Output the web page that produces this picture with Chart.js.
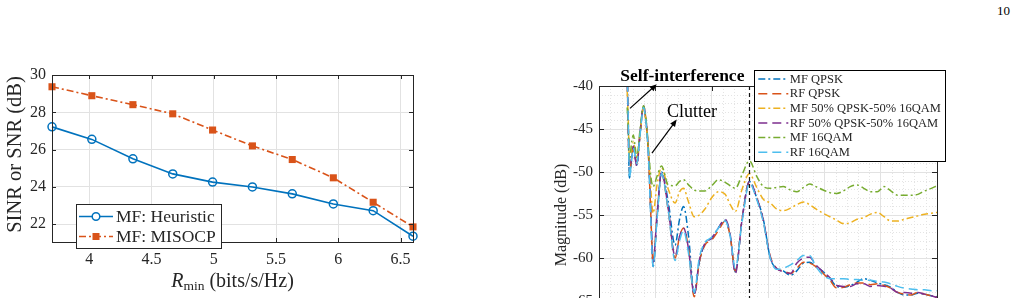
<!DOCTYPE html>
<html>
<head>
<meta charset="utf-8">
<script src="https://cdn.jsdelivr.net/npm/chart.js@4.4.0/dist/chart.umd.min.js"></script>
<style>
  html, body { margin: 0; padding: 0; background: #fff; overflow: hidden; width: 1018px; height: 298px; }
  #page-num { position: absolute; left: 997px; top: 3px; font: 13px 'Liberation Serif', serif; color: #000; }
  #left-chart { position: absolute; left: 0; top: 50px; }
  #right-chart { position: absolute; left: 540px; top: 40px; }
</style>
</head>
<body>
<div id="page-num">10</div>
<canvas id="left-chart" width="440" height="248"></canvas>
<canvas id="right-chart" width="478" height="400"></canvas>
<script>
// ---- left panel: SINR vs R_min ----
const rateMin = [3.7, 4.02, 4.35, 4.67, 4.99, 5.31, 5.63, 5.96, 6.28, 6.6];
const sinrHeuristic = [27.22, 26.55, 25.51, 24.70, 24.26, 24.0, 23.63, 23.09, 22.73, 21.36];
const sinrMisocp = [29.37, 28.89, 28.41, 27.92, 27.05, 26.2, 25.47, 24.49, 23.18, 21.86];
const leftXTicks = [4, 4.5, 5, 5.5, 6, 6.5];
const leftYTicks = [22, 24, 26, 28, 30];
const leftLabels = ['MF: Heuristic', 'MF: MISOCP'];

// ---- right panel: range profile ----
const rangeBins = [5.0, 5.2, 5.4, 5.8, 6.1, 6.4, 6.7, 7.3, 7.9, 8.4,
  8.8, 9.2, 9.6, 10.3, 11.1, 12.3, 13.5, 14.3, 15.0, 15.9,
  16.9, 17.8, 18.8, 20.0, 21.2, 22.4, 23.3, 24.2, 25.4, 26.7,
  28.0, 29.2, 30.4, 31.5, 32.7, 34.0, 35.1, 36.3, 37.4, 38.5,
  39.8, 41.0, 42.2, 43.4, 44.6, 45.8, 47.0, 48.2, 49.4, 50.6,
  51.8, 53.0, 54.2, 55.4, 56.6, 57.8, 59.0, 60.0];
const mfQpsk = [-38, -45, -50.7, -48.5, -47.0, -48.0, -49.2, -45.5, -42.4, -44.5,
  -48.2, -55.0, -61.0, -55.5, -50.0, -53.5, -58.5, -55.5, -54.0, -57.5,
  -64.1, -60.5, -58.3, -57.7, -56.5, -55.6, -57.5, -61.6, -55.5, -51.1,
  -53.0, -55.6, -60.0, -61.2, -61.5, -62.0, -61.5, -60.6, -60.5, -61.0,
  -61.6, -62.4, -63.3, -63.4, -63.2, -62.8, -62.4, -62.6, -62.9, -63.1,
  -63.4, -64.0, -64.3, -64.3, -64.1, -64.2, -64.4, -64.5];
const rfQpsk = [-38, -45, -50.3, -48.2, -47.3, -48.3, -49.0, -45.5, -42.4, -44.5,
  -48.3, -55.0, -60.5, -55.0, -50.2, -54.5, -60.0, -57.5, -56.5, -59.0,
  -64.5, -60.5, -58.5, -57.9, -56.8, -55.7, -57.5, -61.5, -55.5, -51.2,
  -53.0, -55.8, -59.8, -61.2, -61.5, -61.8, -61.2, -60.5, -60.6, -61.0,
  -61.8, -62.6, -63.5, -63.4, -63.1, -62.9, -62.9, -63.1, -63.0, -63.2,
  -63.5, -64.0, -64.2, -64.3, -64.0, -64.2, -64.4, -64.6];
const mfMixed = [-40.5, -44, -48.5, -47.5, -46.5, -47.5, -48.5, -45.5, -42.5, -44.5,
  -48.0, -52.0, -54.8, -51.5, -49.5, -52.0, -53.6, -52.3, -51.9, -53.5,
  -55.2, -55.0, -54.3, -53.0, -52.3, -52.6, -53.8, -54.6, -52.0, -50.2,
  -51.8, -53.2, -53.6, -54.3, -54.5, -54.2, -53.8, -53.5, -53.8, -54.3,
  -54.8, -55.2, -55.6, -56.0, -55.9, -55.5, -55.3, -54.9, -54.7, -55.2,
  -55.7, -55.7, -55.5, -55.3, -55.1, -54.9, -54.8, -54.7];
const rfMixed = [-38, -45, -50.0, -48.3, -47.0, -48.3, -49.3, -45.4, -42.3, -44.3,
  -48.0, -54.5, -60.5, -55.0, -50.0, -54.3, -59.8, -57.5, -56.5, -59.0,
  -64.3, -60.3, -58.3, -57.7, -56.5, -55.5, -57.3, -61.8, -55.5, -51.1,
  -53.0, -55.7, -59.9, -61.2, -61.6, -61.8, -60.6, -60.0, -59.9, -60.8,
  -61.6, -62.3, -63.2, -63.3, -63.3, -63.0, -63.0, -63.3, -63.2, -63.3,
  -63.5, -64.0, -64.0, -64.1, -64.0, -64.2, -64.4, -64.6];
const mf16qam = [-42.5, -45, -48.6, -46.5, -45.7, -47.0, -48.3, -45.0, -42.3, -44.2,
  -47.5, -50.5, -51.7, -50.5, -49.3, -51.5, -51.6, -51.1, -50.9, -51.5,
  -52.1, -52.2, -52.2, -51.6, -50.9, -51.2, -51.6, -51.9, -50.3, -48.7,
  -50.5, -51.7, -51.9, -51.8, -51.7, -52.1, -52.3, -51.8, -51.4, -51.7,
  -52.1, -52.4, -52.5, -52.2, -51.7, -51.5, -51.9, -52.3, -52.3, -51.7,
  -52.2, -52.7, -52.7, -52.7, -52.6, -52.2, -51.9, -51.6];
const rf16qam = [-38, -44, -50.7, -48.5, -47.2, -48.0, -49.0, -45.6, -42.5, -44.6,
  -48.5, -55.5, -61.0, -55.5, -50.2, -54.5, -60.3, -58.0, -56.8, -59.5,
  -64.0, -60.0, -58.2, -57.6, -56.5, -55.7, -57.5, -61.2, -55.8, -51.3,
  -53.2, -55.9, -60.0, -61.3, -61.2, -60.8, -60.3, -59.7, -59.7, -61.0,
  -62.0, -62.4, -62.4, -62.4, -62.5, -62.5, -62.6, -62.6, -62.7, -62.8,
  -63.0, -63.3, -63.5, -63.6, -63.7, -63.7, -63.8, -63.8];
const rightLabels = ['MF QPSK', 'RF QPSK', 'MF 50% QPSK-50% 16QAM', 'RF 50% QPSK-50% 16QAM', 'MF 16QAM', 'RF 16QAM'];
const targetBin = 26.7;
// annotation anchors, in data units (range bin, dB)
const selfIntArrow = [[5.5, -42.6], [10.25, -39.8]];
const clutterArrow = [[9.4, -47.8], [13.8, -43.9]];
const selfIntText = [14.8, -38.9];
const clutterText = [16.5, -43.0];

const AXIS = '#262626';
const GRID = '#e2e2e2';
const SERIF = "'Liberation Serif', 'Times New Roman', serif";
const C = { blue: '#0072BD', orange: '#D95319', yellow: '#EDB120', purple: '#7E2F8E', green: '#77AC30', cyan: '#4DBEEE' };
const DASHDOT = [7, 3, 2, 3];
const DASHED = [9, 5];

function inwardTicks(ctx, chart, len) {
  const { left, right, top, bottom } = chart.chartArea;
  const xs = chart.scales.x, ys = chart.scales.y;
  ctx.beginPath();
  xs.ticks.forEach((t) => {
    const px = Math.round(xs.getPixelForValue(t.value)) + 0.5;
    ctx.moveTo(px, bottom); ctx.lineTo(px, bottom - len);
    ctx.moveTo(px, top); ctx.lineTo(px, top + len);
  });
  ys.ticks.forEach((t) => {
    const py = Math.round(ys.getPixelForValue(t.value)) + 0.5;
    ctx.moveTo(left, py); ctx.lineTo(left + len, py);
    ctx.moveTo(right, py); ctx.lineTo(right - len, py);
  });
  ctx.stroke();
}

function frame(ctx, chart) {
  const { left, right, top, bottom } = chart.chartArea;
  ctx.strokeStyle = AXIS;
  ctx.lineWidth = 1;
  ctx.setLineDash([]);
  ctx.strokeRect(Math.round(left) + 0.5, Math.round(top) + 0.5, Math.round(right - left), Math.round(bottom - top));
}

// ---- left chart ----
const leftDecor = {
  id: 'leftDecor',
  afterDraw(chart) {
    const ctx = chart.ctx;
    const { left, right, top, bottom } = chart.chartArea;
    ctx.save();
    frame(ctx, chart);
    inwardTicks(ctx, chart, 4);

    // axis titles
    ctx.fillStyle = AXIS;
    ctx.textBaseline = 'middle';
    ctx.save();
    ctx.translate(16, (top + bottom) / 2 - 4);
    ctx.rotate(-Math.PI / 2);
    ctx.textAlign = 'center';
    ctx.font = `20.5px ${SERIF}`;
    ctx.fillText('SINR or SNR (dB)', 0, 0);
    ctx.restore();

    const r = 'R', sub = 'min', rest = ' (bits/s/Hz)';
    ctx.font = `italic 20px ${SERIF}`;
    const wR = ctx.measureText(r).width;
    ctx.font = `13.5px ${SERIF}`;
    const wSub = ctx.measureText(sub).width;
    ctx.font = `20px ${SERIF}`;
    const wRest = ctx.measureText(rest).width;
    let x = (left + right) / 2 - (wR + wSub + wRest) / 2;
    const y = bottom + 40;
    ctx.textAlign = 'left';
    ctx.font = `italic 20px ${SERIF}`;
    ctx.fillText(r, x, y); x += wR;
    ctx.font = `13.5px ${SERIF}`;
    ctx.fillText(sub, x, y + 4.5); x += wSub;
    ctx.font = `20px ${SERIF}`;
    ctx.fillText(rest, x, y);

    // legend
    const lx = 76, ly = 154, lw = 145, lh = 44;
    ctx.fillStyle = '#fff';
    ctx.fillRect(lx, ly, lw, lh);
    ctx.strokeStyle = AXIS;
    ctx.lineWidth = 1;
    ctx.strokeRect(lx + 0.5, ly + 0.5, lw, lh);
    chart.data.datasets.forEach((ds, i) => {
      const cy = ly + 12.5 + i * 20;
      ctx.strokeStyle = ds.borderColor;
      ctx.lineWidth = 1.5;
      ctx.setLineDash(ds.borderDash || []);
      ctx.beginPath(); ctx.moveTo(lx + 3, cy); ctx.lineTo(lx + 37, cy); ctx.stroke();
      ctx.setLineDash([]);
      if (i === 0) {
        ctx.beginPath(); ctx.arc(lx + 20, cy, 3.8, 0, Math.PI * 2); ctx.fillStyle = '#fff'; ctx.fill(); ctx.stroke();
      } else {
        ctx.fillStyle = ds.borderColor; ctx.fillRect(lx + 16.5, cy - 3.5, 7, 7);
      }
      ctx.fillStyle = AXIS;
      ctx.font = `17.5px ${SERIF}`;
      ctx.textAlign = 'left';
      ctx.fillText(leftLabels[i], lx + 40, cy + 1);
    });
    ctx.restore();
  },
};

new Chart(document.getElementById('left-chart'), {
  type: 'line',
  data: {
    datasets: [
      {
        data: rateMin.map((x, i) => ({ x, y: sinrHeuristic[i] })),
        borderColor: C.blue, borderWidth: 1.6,
        pointStyle: 'circle', pointRadius: 4, pointBorderWidth: 1.5,
        pointBackgroundColor: 'rgba(255,255,255,0)', pointBorderColor: C.blue,
      },
      {
        data: rateMin.map((x, i) => ({ x, y: sinrMisocp[i] })),
        borderColor: C.orange, borderWidth: 1.6, borderDash: DASHDOT,
        pointStyle: 'rect', pointRadius: 5, pointBorderWidth: 0,
        pointBackgroundColor: C.orange, pointBorderColor: C.orange,
      },
    ],
  },
  options: {
    responsive: false,
    animation: false,
    clip: false,
    layout: { padding: { top: 25, right: 27, left: 0, bottom: 0 } },
    plugins: { legend: { display: false }, tooltip: { enabled: false } },
    scales: {
      x: {
        type: 'linear', min: 3.7, max: 6.6,
        afterBuildTicks: (s) => { s.ticks = leftXTicks.map((v) => ({ value: v })); },
        afterFit: (s) => { s.height = 56; },
        grid: { color: GRID, drawTicks: false },
        border: { color: AXIS },
        ticks: {
          color: AXIS, font: { family: SERIF, size: 16 }, padding: 8, maxRotation: 0, autoSkip: false,
          callback: (v) => String(v),
        },
      },
      y: {
        min: 21.05, max: 30,
        afterBuildTicks: (s) => { s.ticks = leftYTicks.map((v) => ({ value: v })); },
        afterFit: (s) => { s.width = 52; },
        grid: { color: GRID, drawTicks: false },
        border: { color: AXIS },
        ticks: { color: AXIS, font: { family: SERIF, size: 16 }, padding: 6, callback: (v) => String(v) },
      },
    },
  },
  plugins: [leftDecor],
});

// ---- right chart ----
const rightSeries = [
  { label: rightLabels[0], values: mfQpsk, color: C.blue, dash: DASHDOT },
  { label: rightLabels[1], values: rfQpsk, color: C.orange, dash: DASHED },
  { label: rightLabels[2], values: mfMixed, color: C.yellow, dash: DASHDOT },
  { label: rightLabels[3], values: rfMixed, color: C.purple, dash: DASHED },
  { label: rightLabels[4], values: mf16qam, color: C.green, dash: DASHDOT },
  { label: rightLabels[5], values: rf16qam, color: C.cyan, dash: DASHED },
];

function arrow(ctx, x0, y0, x1, y1) {
  const ang = Math.atan2(y1 - y0, x1 - x0);
  const h = 7, w = 3;
  ctx.beginPath(); ctx.moveTo(x0, y0); ctx.lineTo(x1 - Math.cos(ang) * h * 0.8, y1 - Math.sin(ang) * h * 0.8); ctx.stroke();
  ctx.beginPath();
  ctx.moveTo(x1, y1);
  ctx.lineTo(x1 - h * Math.cos(ang) + w * Math.sin(ang), y1 - h * Math.sin(ang) - w * Math.cos(ang));
  ctx.lineTo(x1 - h * Math.cos(ang) - w * Math.sin(ang), y1 - h * Math.sin(ang) + w * Math.cos(ang));
  ctx.closePath(); ctx.fill();
}

const rightDecor = {
  id: 'rightDecor',
  beforeDatasetsDraw(chart) {
    // minor dotted grid
    const ctx = chart.ctx;
    const { left, right, top, bottom } = chart.chartArea;
    const xs = chart.scales.x, ys = chart.scales.y;
    ctx.save();
    ctx.strokeStyle = '#e4e4e4';
    ctx.lineWidth = 1;
    ctx.setLineDash([1, 2]);
    ctx.beginPath();
    for (let v = xs.min + 2; v < xs.max; v += 2) {
      if (v % 10 === 0) continue;
      const px = Math.round(xs.getPixelForValue(v)) + 0.5;
      ctx.moveTo(px, top); ctx.lineTo(px, bottom);
    }
    for (let d = ys.min + 1; d < ys.max; d += 1) {
      if (d % 5 === 0) continue;
      const py = Math.round(ys.getPixelForValue(d)) + 0.5;
      ctx.moveTo(left, py); ctx.lineTo(right, py);
    }
    ctx.stroke();
    ctx.restore();
  },
  afterDraw(chart) {
    const ctx = chart.ctx;
    const { top, bottom } = chart.chartArea;
    const xs = chart.scales.x, ys = chart.scales.y;
    const P = (p) => [xs.getPixelForValue(p[0]), ys.getPixelForValue(p[1])];
    ctx.save();

    // target marker
    const tx = Math.round(xs.getPixelForValue(targetBin)) + 0.5;
    ctx.strokeStyle = '#111';
    ctx.lineWidth = 1.2;
    ctx.setLineDash([4, 3]);
    ctx.beginPath(); ctx.moveTo(tx, top); ctx.lineTo(tx, bottom); ctx.stroke();

    frame(ctx, chart);
    inwardTicks(ctx, chart, 5);

    // annotations
    ctx.fillStyle = '#000';
    ctx.strokeStyle = '#000';
    ctx.lineWidth = 1.2;
    const [a0, a1] = selfIntArrow.map(P);
    arrow(ctx, a0[0], a0[1], a1[0], a1[1]);
    const [c0, c1] = clutterArrow.map(P);
    arrow(ctx, c0[0], c0[1], c1[0], c1[1]);
    ctx.textAlign = 'center';
    ctx.textBaseline = 'middle';
    ctx.font = `bold 17.5px ${SERIF}`;
    const st = P(selfIntText);
    ctx.fillText('Self-interference', st[0], st[1]);
    ctx.font = `18px ${SERIF}`;
    const ct = P(clutterText);
    ctx.fillText('Clutter', ct[0], ct[1]);

    // y title
    ctx.save();
    ctx.translate(22, (top + bottom) / 2);
    ctx.rotate(-Math.PI / 2);
    ctx.font = `16px ${SERIF}`;
    ctx.fillStyle = AXIS;
    ctx.fillText('Magnitude (dB)', 0, 0);
    ctx.restore();

    // legend
    const lx = 214.3, ly = 30, lw = 190.7, lh = 91;
    ctx.fillStyle = '#fff';
    ctx.fillRect(lx, ly, lw, lh);
    ctx.strokeStyle = '#000';
    ctx.lineWidth = 1;
    ctx.setLineDash([]);
    ctx.strokeRect(Math.round(lx) + 0.5, ly + 0.5, Math.round(lw), lh);
    ctx.textAlign = 'left';
    ctx.font = `12.5px ${SERIF}`;
    rightSeries.forEach((s, i) => {
      const cy = ly + 9 + i * 14.65;
      ctx.strokeStyle = s.color;
      ctx.lineWidth = 1.5;
      ctx.setLineDash(s.dash);
      ctx.beginPath(); ctx.moveTo(lx + 4, cy); ctx.lineTo(lx + 34, cy); ctx.stroke();
      ctx.fillStyle = AXIS;
      ctx.fillText(s.label, lx + 35.5, cy + 0.5);
    });
    ctx.restore();
  },
};

new Chart(document.getElementById('right-chart'), {
  type: 'line',
  data: {
    datasets: rightSeries.map((s, i) => ({
      label: s.label,
      data: rangeBins.map((x, k) => ({ x, y: s.values[k] })),
      borderColor: s.color,
      borderWidth: 1.5,
      borderDash: s.dash,
      pointRadius: 0,
      cubicInterpolationMode: 'monotone',
      order: rightSeries.length - i,
    })),
  },
  options: {
    responsive: false,
    animation: false,
    layout: { padding: { top: 46, right: 81, left: 0, bottom: 0 } },
    plugins: { legend: { display: false }, tooltip: { enabled: false } },
    scales: {
      x: {
        type: 'linear', min: 0, max: 60,
        ticks: { stepSize: 10, color: AXIS, font: { family: SERIF, size: 15 }, padding: 6 },
        afterFit: (s) => { s.height = 96; },
        grid: { color: GRID, drawTicks: false },
        border: { color: AXIS },
      },
      y: {
        min: -70, max: -40,
        ticks: { stepSize: 5, color: AXIS, font: { family: SERIF, size: 15 }, padding: 6 },
        afterFit: (s) => { s.width = 59; },
        grid: { color: GRID, drawTicks: false },
        border: { color: AXIS },
      },
    },
  },
  plugins: [rightDecor],
});
</script>
</body>
</html>
